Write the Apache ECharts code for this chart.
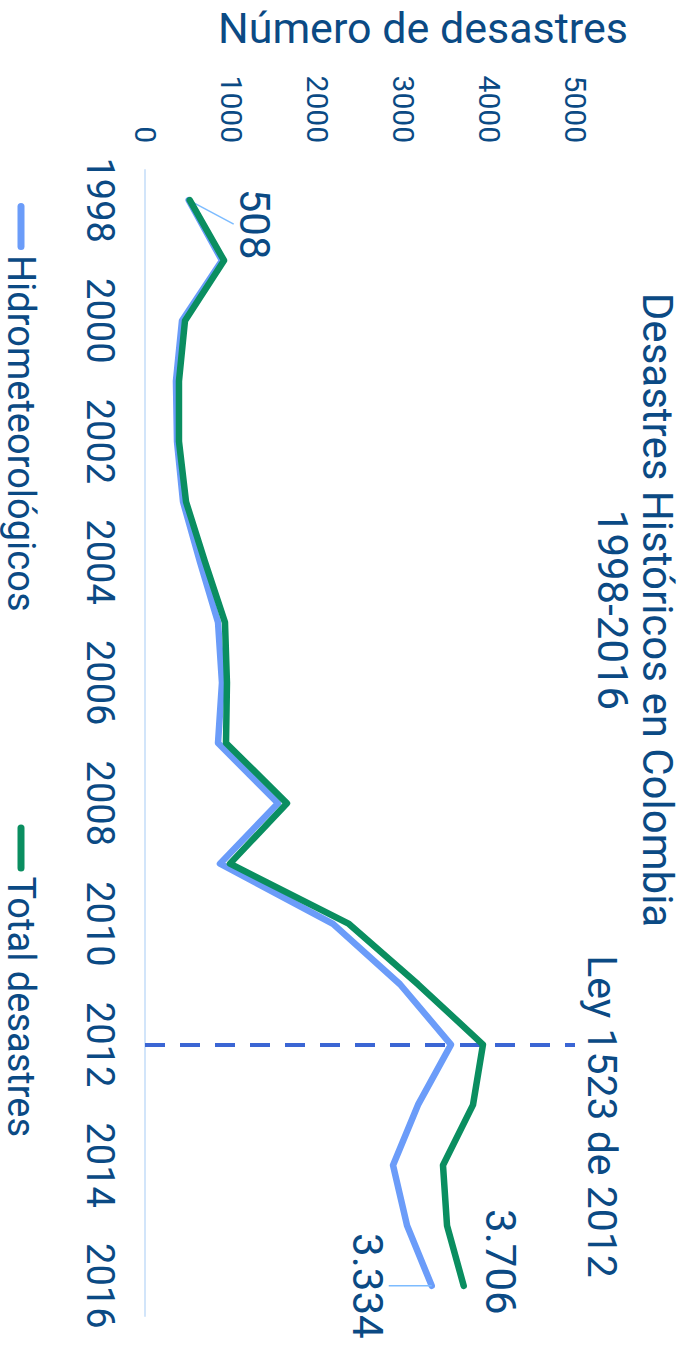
<!DOCTYPE html>
<html>
<head>
<meta charset="utf-8">
<script src="https://cdn.jsdelivr.net/npm/echarts@6/dist/echarts.min.js"></script>
<style>
  html, body { margin: 0; padding: 0; background: #ffffff; width: 685px; height: 1345px; overflow: hidden; }
  /* The chart is laid out landscape and turned a quarter turn clockwise onto the portrait page */
  #chart {
    position: absolute; left: 0; top: 0;
    width: 1345px; height: 685px;
    transform-origin: 0 0;
    transform: translate(685px, 0) rotate(90deg);
  }
</style>
</head>
<body>
<div id="chart"></div>
<script>
// Years on the category axis
const years = ['1998', '1999', '2000', '2001', '2002', '2003', '2004', '2005', '2006', '2007',
               '2008', '2009', '2010', '2011', '2012', '2013', '2014', '2015', '2016'];

// Hydrometeorological disasters per year
const hidro = [508, 895, 430, 360, 372, 442, 640, 849, 895, 849,
               1547, 872, 2186, 2965, 3558, 3174, 2884, 3047, 3334];

// All disasters per year
const total = [520, 919, 465, 395, 395, 477, 698, 930, 953, 942,
               1651, 988, 2372, 3174, 3930, 3814, 3465, 3512, 3706];

const seriesNames = ['Hidrometeorológicos', 'Total desastres'];
const titleLines = ['Desastres Históricos en Colombia', '1998-2016'];
const valueAxisName = 'Número de desastres';
const lawYear = '2012';
const lawLabel = 'Ley 1523 de 2012';

const INK = '#0b4a84';
const BLUE = '#6b9cf9';
const GREEN = '#0a8e60';
const FONT = 'Roboto, "Noto Sans", sans-serif';

// Spanish thousands separator: 3706 -> "3.706"
const fmt = v => String(v).replace(/\B(?=(\d{3})+(?!\d))/g, '.');

const last = years.length - 1;

const hidroData = hidro.map((v, i) => {
  if (i === 0) return { value: v, label: { show: true, position: 'top' } };
  if (i === last) return { value: v, label: { show: true, position: 'bottom' } };
  return v;
});
const totalData = total.map((v, i) => (i === last ? { value: v, label: { show: true, position: 'top' } } : v));

const chart = echarts.init(document.getElementById('chart'), null, { renderer: 'svg' });

chart.setOption({
  animation: false,
  textStyle: { fontFamily: FONT },
  grid: { left: 170, right: 29, top: 110, bottom: 145 },
  legend: {
    data: seriesNames,
    left: 198,
    top: 640,
    itemWidth: 47,
    itemHeight: 7,
    itemGap: 213,
    icon: 'path://M3.5,0H43.5A3.5,3.5,0,0,1,43.5,7H3.5A3.5,3.5,0,0,1,3.5,0Z',
    textStyle: { fontSize: 38, color: INK, fontFamily: FONT }
  },
  xAxis: {
    type: 'category',
    data: years,
    boundaryGap: true,
    axisLine: { lineStyle: { color: '#d2e5fa', width: 2 } },
    axisTick: { show: false },
    axisLabel: { interval: 1, fontSize: 38, color: INK, margin: 26, fontFamily: FONT }
  },
  yAxis: {
    type: 'value',
    min: 0,
    max: 5000,
    interval: 1000,
    splitLine: { show: false },
    axisLine: { show: false },
    axisTick: { show: false },
    axisLabel: { fontSize: 30, color: INK, margin: 27, fontFamily: FONT, formatter: v => String(v) }
  },
  graphic: [
    {
      type: 'text',
      x: 28, y: 262,
      rotation: Math.PI / 2,
      style: {
        text: valueAxisName,
        fontSize: 43, fontFamily: FONT, fill: INK,
        align: 'center', verticalAlign: 'middle'
      }
    },
    {
      type: 'text',
      x: 610, y: 50,
      style: {
        text: titleLines.join('\n'),
        fontSize: 42, fontFamily: FONT, lineHeight: 45, fill: INK,
        align: 'center', verticalAlign: 'middle'
      }
    }
  ],
  series: [
    {
      name: seriesNames[0],
      type: 'line',
      data: hidroData,
      color: BLUE,
      showSymbol: true,
      symbol: 'circle',
      symbolSize: 0.01,
      lineStyle: { width: 6.5, color: BLUE, cap: 'round', join: 'round' },
      label: { show: false, fontSize: 42, color: INK, formatter: p => fmt(p.value), fontFamily: FONT },
      labelLine: { show: true, lineStyle: { color: '#7dbcff', width: 1.5 } },
      labelLayout: p => (p.dataIndex === 0 ? { dx: 24, dy: -40 } : { dx: 0, dy: 38 }),
      z: 2
    },
    {
      name: seriesNames[1],
      type: 'line',
      data: totalData,
      color: GREEN,
      showSymbol: true,
      symbol: 'circle',
      symbolSize: 0.01,
      lineStyle: { width: 6.5, color: GREEN, cap: 'round', join: 'round' },
      label: { show: false, fontSize: 42, color: INK, formatter: p => fmt(p.value), fontFamily: FONT },
      labelLine: { show: false },
      labelLayout: () => ({ dx: -24, dy: -11 }),
      markLine: {
        silent: true,
        symbol: ['none', 'none'],
        data: [{ xAxis: lawYear }],
        lineStyle: { type: [20, 15], color: '#3b66d4', width: 4 },
        label: {
          show: true,
          position: 'end',
          formatter: lawLabel,
          fontSize: 41,
          color: INK,
          fontFamily: FONT,
          distance: 6,
          padding: [0, 0, 0, 144]
        },
        z: 1
      },
      z: 3
    }
  ]
});
</script>
</body>
</html>
